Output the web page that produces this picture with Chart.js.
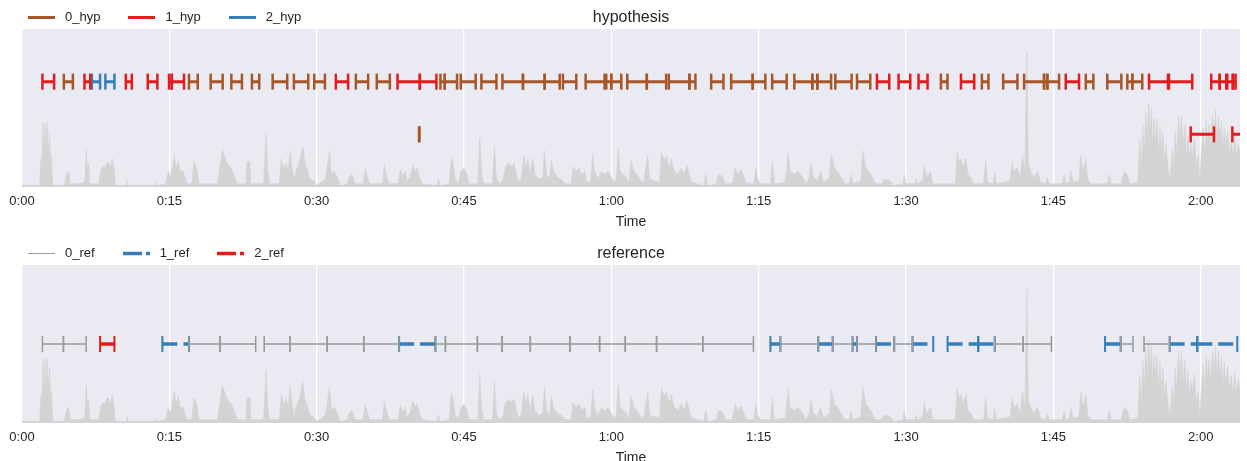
<!DOCTYPE html>
<html>
<head>
<meta charset="utf-8">
<title>hypothesis / reference</title>
<script src="https://cdn.jsdelivr.net/npm/chart.js@4"></script>
<style>
  html, body { margin: 0; padding: 0; background: #fff; overflow: hidden; }
  body {
    width: 1247px; height: 461px; position: relative;
    font-family: "Liberation Sans", Arial, sans-serif; color: #262626;
  }
  .panel { position: absolute; left: 0; width: 1247px; height: 236px; }
  .legend {
    position: absolute; left: 28px; top: 9px; height: 16px;
    display: flex; align-items: center; font-size: 13px; line-height: 16px;
  }
  .legend .item { display: flex; align-items: center; margin-right: 28px; }
  .legend svg { margin-right: 10px; }
  .title {
    position: absolute; left: 22px; width: 1218px; top: 8px;
    text-align: center; font-size: 16px; line-height: 18px;
  }
</style>
</head>
<body>

<div class="panel" style="top:0">
  <canvas id="hypChart"></canvas>
  <div class="legend" id="hypLegend"></div>
  <div class="title">hypothesis</div>
</div>
<div class="panel" style="top:236px">
  <canvas id="refChart"></canvas>
  <div class="legend" id="refLegend"></div>
  <div class="title">reference</div>
</div>

<script>
// ---- data (seconds) ----
// audio envelope, shared by both panels
const waveTime = [
  0, 1.8, 1.92, 2.0, 2.15, 2.25, 2.35, 2.45, 2.55, 2.65, 2.8, 2.9, 3.0, 3.1, 3.2,
  4.3, 4.5, 4.75, 4.9, 5.8, 6.4, 6.55, 6.65, 6.8, 6.9,
  7.8, 8.0, 8.2, 8.4, 8.6, 8.8, 9.0, 9.2, 9.4, 9.5,
  10.6, 10.7, 10.8, 13.6, 13.7, 13.8,
  14.6, 14.9, 15.1, 15.5, 15.7, 15.9, 16.1, 16.4, 16.8,
  17.3, 17.5, 17.8, 18.0,
  19.9, 20.2, 20.4, 20.7, 21.0, 21.3, 21.6, 21.9,
  22.8, 22.9, 23.2, 23.3, 24.6, 24.85, 25.0, 25.2,
  26.2, 26.4, 26.6, 26.9, 27.1, 27.3, 27.5, 27.7,
  27.9, 28.2, 28.6, 28.8, 29.0, 29.3, 29.7, 30.0,
  30.9, 31.3, 31.5, 31.8, 32.1, 32.4,
  33.1, 33.3, 33.6, 33.9, 34.7, 34.95, 35.2, 35.4,
  36.7, 36.9, 37.2, 37.4,
  38.3, 38.5, 38.8, 39.0, 39.2, 39.5, 39.8, 40.0, 40.2, 40.5, 40.8,
  42.2, 42.4, 42.6,
  43.5, 43.7, 43.9, 44.1, 44.4, 44.7, 45.0, 45.3, 45.5,
  46.4, 46.6, 46.8, 47.0, 47.9, 48.1, 48.3, 48.6,
  49.0, 49.2, 49.5, 49.8, 50.1, 50.4, 50.7,
  50.9, 51.1, 51.3, 51.5, 51.7, 52.0, 52.2, 52.6,
  53.0, 53.2, 53.4, 53.7, 53.9, 54.1, 54.5, 54.9, 55.3,
  55.9, 56.1, 56.4, 56.7, 57.0, 57.3, 57.5,
  57.9, 58.1, 58.3, 58.6, 59.0, 59.3, 59.7, 60.0, 60.3,
  60.5, 60.7, 60.9, 61.2, 61.5, 61.8,
  62.0, 62.3, 62.6, 63.0, 63.3, 63.7, 63.9,
  64.9, 65.1, 65.4, 65.6, 65.9, 66.1, 66.4, 66.8, 67.1, 67.4, 67.7, 68.0, 68.2,
  69.4, 69.6, 69.8, 70.7, 70.9, 71.3, 71.6,
  72.3, 72.6, 72.9, 73.2, 73.5, 73.8, 74.5, 74.7, 74.9, 75.2,
  76.2, 76.4, 76.6,
  77.7, 78.0, 78.2, 78.6, 79.0, 79.5, 79.8,
  80.1, 80.3, 80.6, 81.0, 81.3, 81.6,
  82.2, 82.4, 82.7, 83.0, 83.4, 83.8, 84.2, 84.4, 84.6,
  85.4, 85.6, 85.9, 86.2, 86.6, 86.9,
  87.5, 87.8, 88.4, 88.7, 89.7, 89.8, 90.0, 90.9, 91.0, 91.2,
  91.7, 91.85, 92.1, 92.5, 92.7,
  95.0, 95.2, 95.4, 95.6, 95.8, 96.1, 96.3, 96.6, 96.9,
  97.9, 98.1, 98.3, 98.9, 99.0, 99.2,
  100.6, 100.8, 101.0, 101.3, 101.6, 101.85, 102.1, 102.3, 102.45, 102.7, 103.0, 103.4, 103.7,
  104.2, 104.4, 104.6, 105.9, 106.1, 106.3, 106.6, 106.8, 107.0,
  107.6, 107.8, 108.0, 108.3, 108.5, 108.8,
  110.5, 110.7, 110.9, 111.9, 112.2, 112.5, 112.8,
  113.6, 113.8, 113.95, 114.1, 114.25, 114.4, 114.55, 114.7, 114.85, 115.0, 115.1,
  115.25, 115.4, 115.55, 115.7, 115.85, 116.0, 116.15, 116.3, 116.45, 116.7, 116.9,
  117.1, 117.25, 117.4, 117.55, 117.75, 117.9, 118.05, 118.2, 118.4, 118.55, 118.7,
  118.85, 119.0, 119.15, 119.35, 119.55, 119.75, 119.9, 120.05,
  120.25, 120.4, 120.55, 120.7, 120.85, 121.0, 121.2, 121.35, 121.5, 121.65, 121.8,
  121.95, 122.1, 122.25, 122.4, 122.55, 122.75, 122.9, 123.1, 123.3, 123.45, 123.6, 123.8, 124.0
];
const waveAmp = [
  .01, .01, .18, .08, .41, .20, .40, .25, .41, .20, .35, .15, .20, .05, .01,
  .01, .08, .10, .02, .02, .03, .24, .12, .15, .02,
  .02, .10, .13, .12, .15, .16, .12, .18, .10, .01,
  .01, .04, .01, .01, .03, .01,
  .02, .10, .06, .20, .12, .17, .10, .10, .02,
  .02, .16, .12, .02,
  .02, .15, .24, .18, .14, .12, .08, .02,
  .02, .16, .16, .02, .02, .34, .12, .02,
  .02, .18, .12, .15, .10, .23, .12, .05,
  .10, .15, .26, .15, .12, .05, .04, .01,
  .05, .23, .08, .10, .06, .01,
  .02, .06, .08, .02, .02, .12, .06, .02,
  .02, .14, .05, .02,
  .02, .11, .07, .10, .04, .06, .14, .10, .12, .06, .02,
  .01, .05, .01,
  .02, .19, .15, .05, .02, .10, .12, .08, .02,
  .02, .31, .08, .02, .02, .26, .06, .02,
  .05, .12, .15, .13, .15, .06, .03,
  .08, .20, .12, .18, .08, .18, .08, .05,
  .06, .23, .08, .05, .17, .10, .06, .05, .02,
  .02, .13, .10, .12, .08, .10, .03,
  .04, .21, .10, .05, .10, .08, .10, .06, .03,
  .05, .24, .10, .08, .06, .03,
  .17, .10, .08, .04, .03, .20, .05,
  .03, .22, .17, .20, .12, .18, .10, .08, .12, .08, .14, .06, .03,
  .01, .08, .01, .02, .08, .07, .02,
  .02, .12, .08, .11, .06, .02, .02, .12, .05, .02,
  .02, .16, .02,
  .03, .22, .10, .08, .10, .06, .02,
  .05, .15, .06, .04, .10, .03,
  .06, .21, .12, .10, .06, .02, .02, .08, .02,
  .04, .23, .12, .10, .06, .02,
  .02, .05, .04, .01, .02, .08, .02, .02, .05, .02,
  .04, .13, .06, .10, .02,
  .02, .22, .16, .18, .12, .18, .08, .06, .02,
  .02, .17, .03, .02, .10, .02,
  .04, .16, .10, .12, .06, .20, .10, .85, .15, .10, .06, .10, .03,
  .02, .06, .02, .02, .08, .02, .03, .10, .03,
  .04, .20, .10, .18, .05, .02,
  .02, .08, .02, .02, .10, .08, .02,
  .03, .30, .12, .40, .20, .48, .30, .53, .35, .50, .25,
  .43, .30, .43, .20, .39, .22, .35, .15, .27, .10, .06,
  .24, .12, .35, .20, .45, .28, .46, .25, .40, .20, .33,
  .18, .27, .20, .31, .14, .20, .03, .20,
  .37, .20, .42, .28, .40, .25, .46, .30, .49, .30, .45,
  .28, .42, .22, .38, .25, .36, .20, .30, .18, .33, .20, .27, .22
];

// hypothesis segments [start, end]
const hyp0 = [
  [4.26, 5.18], [17.00, 17.89], [19.21, 20.43], [21.31, 22.39], [23.41, 24.15],
  [25.52, 27.00], [27.68, 29.14], [29.75, 30.84], [33.99, 35.24], [36.12, 37.45],
  [40.42, 40.46], [42.60, 43.04], [43.04, 44.29], [44.67, 46.19], [46.77, 48.30],
  [48.91, 51.00], [51.00, 53.21], [53.21, 54.74], [55.07, 56.43], [57.38, 59.31],
  [59.48, 59.99], [59.99, 61.01], [61.62, 63.61], [63.61, 65.58], [65.85, 67.95],
  [67.95, 68.56], [70.16, 71.41], [72.20, 74.39], [74.39, 75.68], [76.37, 77.85],
  [78.63, 80.46], [80.46, 80.97], [80.97, 82.37], [82.80, 84.46], [85.01, 86.36],
  [93.55, 94.22], [97.72, 98.39], [99.89, 101.34], [102.02, 104.05], [104.05, 104.39],
  [104.39, 105.58], [108.30, 109.07], [110.49, 111.92], [112.53, 113.04], [113.04, 114.05]
];
const hyp1 = [
  [2.08, 3.27], [6.36, 6.94], [10.57, 11.18], [12.80, 13.78], [14.97, 15.25],
  [15.25, 16.49], [31.95, 33.20], [38.23, 40.50], [40.50, 42.19], [87.04, 88.29],
  [89.24, 90.43], [91.27, 92.19], [95.59, 96.94], [106.26, 107.61], [114.74, 116.67],
  [116.77, 119.14], [118.98, 121.35], [121.07, 121.93], [121.93, 122.60], [122.70, 123.25],
  [123.22, 124.40], [123.30, 123.55]
];
const hyp2 = [[7.11, 7.95], [8.49, 9.41]];

// reference segments [start, end]
const ref0 = [
  [2.08, 4.22], [4.22, 6.53], [17.00, 20.16], [20.16, 23.79], [24.66, 27.27],
  [27.27, 31.07], [31.07, 34.80], [34.80, 38.39], [42.09, 43.11], [43.11, 46.36],
  [46.36, 48.87], [48.87, 51.75], [51.75, 55.78], [55.78, 58.80], [58.80, 61.42],
  [61.42, 64.60], [64.60, 69.31], [69.31, 74.46], [77.21, 81.07], [82.53, 84.56],
  [85.01, 86.94], [88.80, 90.66], [99.03, 101.93], [101.93, 104.80], [111.85, 113.11],
  [114.23, 116.84]
];
const ref1 = [
  [14.29, 17.00], [38.39, 42.09], [76.19, 77.21], [81.07, 82.53], [84.56, 85.01],
  [86.94, 88.80], [90.66, 92.77], [94.23, 97.35], [97.35, 99.03], [110.26, 111.85],
  [116.84, 119.65], [119.65, 123.72]
];
const ref2 = [[7.95, 9.41]];

const hypLabels = ['0_hyp', '1_hyp', '2_hyp'];
const refLabels = ['0_ref', '1_ref', '2_ref'];
const xTicks = [0, 15, 30, 45, 60, 75, 90, 105, 120];
const xMax = 124;

// ---- helpers ----
const FONT = '"Liberation Sans", Arial, sans-serif';
const TEXT = '#262626';
const DASHED = [15, 6];

// same row stacking as pyannote: overlapping segments go one row down
function stack(groups) {
  const all = [];
  groups.forEach((segs, g) => segs.forEach(s => all.push({ g, start: s[0], end: s[1] })));
  all.sort((a, b) => a.start - b.start || a.end - b.end);
  const upTo = [-Infinity];
  all.forEach(s => {
    let i = upTo.findIndex(u => s.start >= u);
    if (i < 0) { i = upTo.length; upTo.push(s.end); } else { upTo[i] = s.end; }
    s.row = i;
  });
  all.forEach(s => { s.y = 1 - (1 + s.row) / (upTo.length + 1); });
  return groups.map((_, g) => {
    const pts = [];
    all.filter(s => s.g === g).forEach(s => {
      pts.push({ x: s.start, y: s.y }, { x: s.end, y: s.y }, { x: s.end, y: null });
    });
    return pts;
  });
}

function fmt(v) {
  const m = Math.floor(v / 60), s = v % 60;
  return m + ':' + String(s).padStart(2, '0');
}

const plotBg = {
  id: 'plotBg',
  beforeDraw(chart) {
    const { ctx, chartArea: a } = chart;
    ctx.save();
    ctx.fillStyle = '#eaeaf2';
    ctx.fillRect(a.left, a.top, a.width, a.height);
    ctx.restore();
  }
};

function waveDataset() {
  return {
    label: 'wave',
    data: waveTime.map((t, i) => ({ x: t, y: waveAmp[i] })),
    borderColor: '#d3d3d3',
    backgroundColor: '#d3d3d3',
    borderWidth: 0.6,
    fill: 'origin',
    pointRadius: 0,
    tension: 0,
    order: 10
  };
}

function segDataset(label, pts, color, width, tickWidth, dash) {
  return {
    label: label,
    data: pts,
    borderColor: color,
    backgroundColor: color,
    borderWidth: width,
    borderDash: dash || [],
    spanGaps: false,
    pointStyle: 'line',
    rotation: 90,
    pointRadius: 8,
    pointBorderWidth: tickWidth,
    pointBorderColor: color,
    pointBackgroundColor: color,
    order: 1
  };
}

function makeChart(id, datasets) {
  const canvas = document.getElementById(id);
  canvas.width = 1247;
  canvas.height = 236;
  return new Chart(canvas, {
    type: 'line',
    data: { datasets: datasets.concat([waveDataset()]) },
    plugins: [plotBg],
    options: {
      responsive: false,
      animation: false,
      events: [],
      layout: { autoPadding: false, padding: { left: 22, right: 7, top: 29, bottom: 5.6 } },
      plugins: { legend: { display: false }, tooltip: { enabled: false }, title: { display: false } },
      scales: {
        x: {
          type: 'linear',
          min: 0,
          max: xMax,
          afterBuildTicks: scale => { scale.ticks = xTicks.map(v => ({ value: v })); },
          afterFit: scale => {
            scale.height = 43.4;
            scale.paddingLeft = 0;
            scale.paddingRight = 0;
          },
          grid: { color: '#ffffff', lineWidth: 1.3, drawTicks: false },
          border: { display: false },
          ticks: {
            padding: 7, color: TEXT, maxRotation: 0, autoSkip: false,
            font: { family: FONT, size: 13 },
            callback: v => fmt(v)
          },
          title: {
            display: true, text: 'Time', color: TEXT,
            font: { family: FONT, size: 14 }, padding: { top: 0, bottom: 0 }
          }
        },
        y: { min: 0, max: 1, display: false }
      }
    }
  });
}

// ---- hypothesis ----
const hypColors = ['#a65628', '#e41a1c', '#377eb8'];
const hypPts = stack([hyp0, hyp1, hyp2]);
makeChart('hypChart', hypPts.map((p, i) => segDataset(hypLabels[i], p, hypColors[i], 3, 2.5)));

// ---- reference ----
const refColors = ['#999999', '#377eb8', '#e41a1c'];
const refPts = stack([ref0, ref1, ref2]);
makeChart('refChart', [
  segDataset(refLabels[0], refPts[0], refColors[0], 1.5, 1.5),
  segDataset(refLabels[1], refPts[1], refColors[1], 3.5, 2, DASHED),
  segDataset(refLabels[2], refPts[2], refColors[2], 3.5, 2, DASHED)
]);

// ---- legends ----
function legend(boxId, labels, colors, widths, dashes) {
  const box = document.getElementById(boxId);
  labels.forEach((lab, i) => {
    const item = document.createElement('div');
    item.className = 'item';
    item.innerHTML =
      '<svg width="27" height="8"><line x1="0" y1="4.5" x2="27" y2="4.5" stroke="' + colors[i] +
      '" stroke-width="' + widths[i] + '"' + (dashes[i] ? ' stroke-dasharray="' + dashes[i] + '"' : '') +
      '/></svg><span>' + lab + '</span>';
    box.appendChild(item);
  });
}
legend('hypLegend', hypLabels, hypColors, [3, 3, 3], [null, null, null]);
legend('refLegend', refLabels, refColors, [1, 3.5, 3.5], [null, '19 4', '19 4']);
</script>
</body>
</html>
